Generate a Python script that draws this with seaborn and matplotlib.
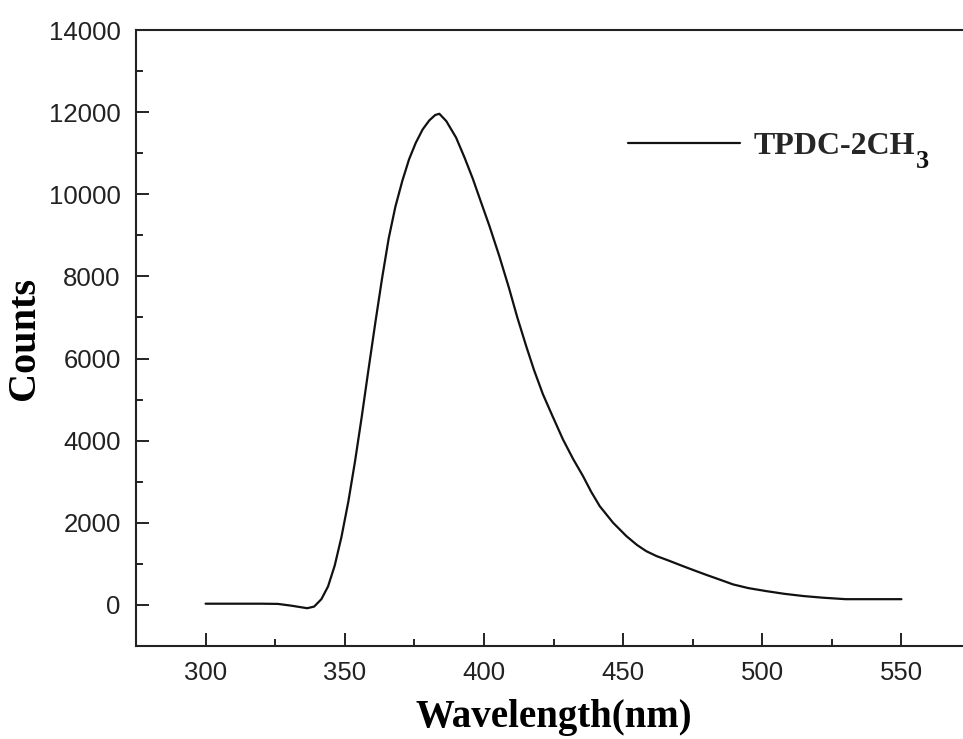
import matplotlib
matplotlib.use("Agg")
import matplotlib.pyplot as plt
import seaborn as sns
import pandas as pd

# ---- data ----
wavelength = [300, 310, 320, 326, 331, 336.5, 339, 341.6, 344, 346.4, 348.8, 351.3,
              353.7, 356.1, 358.5, 361.0, 363.4, 365.8, 368.2, 370.7, 373.1, 375.5,
              378, 380.4, 382.5, 384.0, 386.5, 390, 393, 396, 399, 402,
              405.5, 409, 412, 415.2, 418, 421.2, 424.5, 428.4, 432, 435.6,
              438.5, 441.6, 446.4, 451.2, 455, 458.3, 462, 466, 471.5, 476,
              480, 485, 489.5, 495, 501.5, 508, 515, 522, 530, 540, 550]
counts = [30, 30, 30, 25, -20, -80, -40, 140, 450, 960, 1650, 2520,
          3500, 4580, 5720, 6880, 7950, 8930, 9700, 10330, 10850, 11250,
          11580, 11800, 11930, 11960, 11780, 11380, 10900, 10380, 9800, 9224,
          8500, 7720, 7000, 6300, 5720, 5130, 4620, 4030, 3560, 3137,
          2760, 2406, 2002, 1675, 1460, 1310, 1190, 1090, 945, 830,
          730, 610, 500, 410, 336, 270, 215, 175, 140, 140, 140]
series_name = "TPDC-2CH"
series_subscript = "3"
x_ticks = [300, 350, 400, 450, 500, 550]
x_minor = [325, 375, 425, 475, 525]
y_ticks = [0, 2000, 4000, 6000, 8000, 10000, 12000, 14000]
y_minor = [1000, 3000, 5000, 7000, 9000, 11000, 13000]

sns.set_style("ticks")
plt.rcParams["font.family"] = ["Liberation Sans", "DejaVu Sans"]

W, H = 963, 739
fig = plt.figure(figsize=(W / 100, H / 100), dpi=100)
fig.patch.set_facecolor("white")
ax = fig.add_axes([136 / W, 1 - 646 / H, (971 - 136) / W, (646 - 30) / H])

df = pd.DataFrame({"Wavelength": wavelength, "Counts": counts})
sns.lineplot(data=df, x="Wavelength", y="Counts", ax=ax, color="#111111",
             linewidth=1.6, label=series_name)

ax.set_xlim(275, 575)
ax.set_ylim(-1000, 14000)
ax.set_xticks(x_ticks)
ax.set_xticks(x_minor, minor=True)
ax.set_yticks(y_ticks)
ax.set_yticks(y_minor, minor=True)
ax.set_xticklabels([str(t) for t in x_ticks])
ax.set_yticklabels([str(t) for t in y_ticks])

ax.tick_params(which="major", direction="in", length=9.5, width=1.4,
               labelsize=18.5, pad=11, color="#222222", labelcolor="#222222")
ax.tick_params(which="minor", direction="in", length=5, width=1.4, color="#222222")
ax.tick_params(top=False, right=False, which="both")
for s in ax.spines.values():
    s.set_linewidth(1.5)
    s.set_color("#222222")
    s.set_visible(True)

ax.set_xlabel("Wavelength(nm)", fontfamily="Liberation Serif", fontweight="bold",
              fontsize=28, labelpad=10, color="black")
ax.set_ylabel("Counts", fontfamily="Liberation Serif", fontweight="bold",
              fontsize=29, labelpad=4, color="black")

leg = ax.legend(loc="center left", bbox_to_anchor=(628 / W, 1 - 146 / H),
                bbox_transform=fig.transFigure, frameon=False, handlelength=3.5,
                handletextpad=0.42, borderpad=0, borderaxespad=0,
                prop={"family": "Liberation Serif", "weight": "bold", "size": 23})

# subscript "3" placed right after the legend label, lowered like the reference
fig.canvas.draw()
bb = leg.get_texts()[0].get_window_extent()
fig.text((bb.x1 + 1) / W, (bb.y0 - 12) / H, series_subscript,
         fontfamily="Liberation Serif", fontweight="bold", fontsize=19,
         ha="left", va="bottom", color="#111111")

fig.savefig("out.png", dpi=100, facecolor="white")
